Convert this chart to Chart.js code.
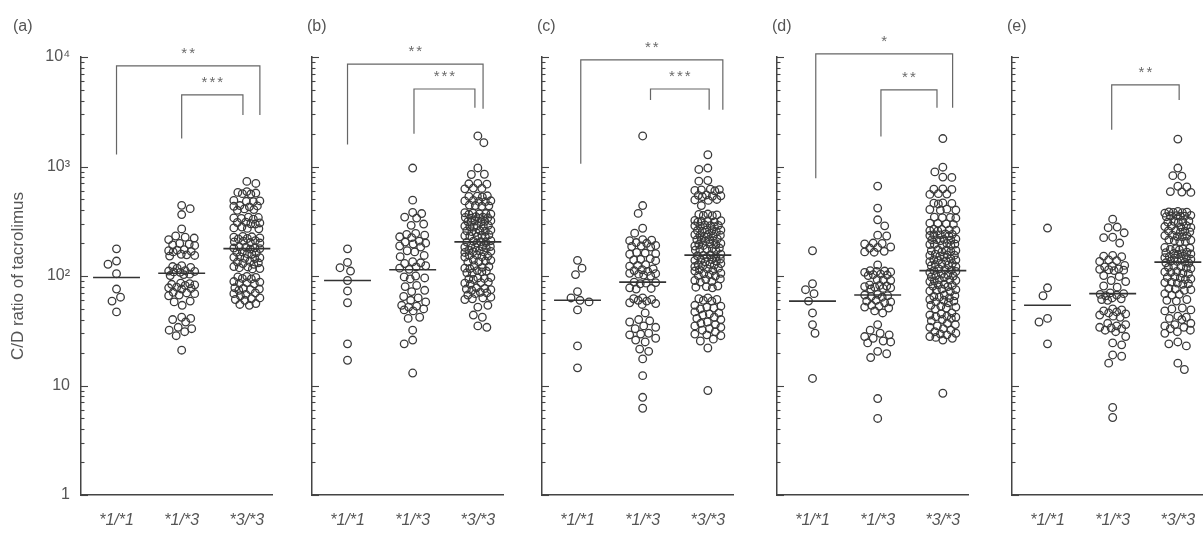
<!DOCTYPE html>
<html>
<head>
<meta charset="utf-8">
<script src="https://cdn.jsdelivr.net/npm/chart.js@4.4.1/dist/chart.umd.min.js"></script>
<style>
  body { margin: 0; background: #fff; width: 1203px; height: 536px; overflow: hidden; position: relative;
         font-family: "Liberation Sans", Arial, sans-serif; }
  canvas { position: absolute; top: 0; }
  .tag { position: absolute; top: 18px; font-size: 16px; line-height: 1; color: #555; }
</style>
</head>
<body>
<script>
// categories and axis labels
const genotypes = ['*1/*1', '*1/*3', '*3/*3'];
const yTickValues = [1, 10, 100, 1000, 10000];
const yTickLabels = ['1', '10', '10²', '10³', '10⁴'];
const panelNames = ['(a)', '(b)', '(c)', '(d)', '(e)'];

// (a)
const a11 = [177, 137, 128, 105, 76, 64, 59, 47];
const a13 = [442, 412, 364, 269, 232, 226, 222, 215, 198, 195, 192, 190, 174, 172, 170, 168, 166, 158, 156, 154, 152,
  124, 122, 120, 118, 112, 111, 110, 109, 108, 104, 103, 101, 86, 85, 84, 83, 82, 79, 78, 77, 76, 71, 70, 69, 67, 66,
  59, 58, 54, 42, 41, 40, 38, 34, 33, 32, 31, 28.5, 21];
const a33 = [731, 700, 580, 572, 565, 560, 590, 485, 481, 478, 490, 440, 433, 428, 436, 410, 404, 398,
  345, 339, 335, 342, 330, 310, 305, 300, 308, 298, 280, 275, 270, 272, 228, 223, 220, 226, 218, 230,
  208, 205, 202, 210, 200, 185, 181, 178, 183, 176, 180, 166, 163, 160, 165, 158, 150, 147, 144, 148, 145,
  134, 132, 130, 136, 128, 121, 119, 117, 122, 116, 99, 97, 95, 98, 94, 89, 87, 85, 88, 86,
  78, 76, 74, 77, 75, 70, 68, 66, 69, 62, 61, 60, 63, 56, 55, 54];
const mediansA = [97, 106, 178];

// (b)
const b11 = [177, 133, 119, 111, 91, 73, 57, 24, 17];
const b13 = [968, 493, 380, 372, 345, 338, 298, 290, 245, 240, 236, 228, 224, 208, 204, 200, 196, 188, 184, 170, 166,
  154, 150, 135, 132, 130, 124, 121, 118, 115, 100, 98, 96, 94, 82, 80, 74, 72, 65, 63, 60, 58, 54, 53, 52, 50, 49, 48,
  42, 41, 32, 26, 24, 13];
const b33 = [1900, 1650, 970, 850, 845, 700, 695, 690, 635, 630, 625, 540, 533, 528, 536, 490, 485, 480, 478, 486,
  440, 437, 433, 445, 375, 370, 366, 372, 368, 378, 345, 342, 338, 348, 340, 336, 318, 314, 310, 316, 312, 320,
  288, 284, 280, 286, 282, 290, 262, 258, 254, 260, 256, 250, 236, 233, 230, 238, 232, 228, 206, 204, 202, 208, 200, 210,
  188, 185, 182, 186, 183, 180, 170, 168, 166, 172, 164, 167, 154, 152, 150, 155, 149, 139, 137, 135, 140, 134,
  122, 120, 118, 124, 117, 111, 109, 107, 112, 106, 96, 95, 93, 97, 94, 87, 86, 84, 88, 77, 76, 74, 78, 75,
  70, 69, 67, 71, 63, 62, 61, 64, 54, 52, 44, 42, 35, 34];
const mediansB = [91, 114, 205];

// (c)
const c11 = [139, 118, 103, 72, 63, 60, 58, 49, 23, 14.5];
const c13 = [1900, 440, 373, 273, 246, 215, 212, 210, 202, 199, 190, 188, 186, 184, 164, 162, 160, 158, 144, 142, 140, 138,
  127, 125, 123, 116, 114, 112, 110, 106, 105, 104, 102, 100, 88, 87, 86, 85, 78, 77, 76, 63, 62, 61, 60, 59, 57, 56, 55,
  46, 40, 39, 38, 35, 34, 33, 30, 29.5, 29, 27, 26, 25, 21.5, 20.5, 17.5, 12.3, 7.8, 6.2];
const c33 = [1280, 968, 940, 745, 735, 615, 610, 605, 600, 620, 545, 540, 535, 550, 530, 500, 495, 490, 440,
  365, 361, 357, 368, 355, 320, 316, 312, 322, 310, 318, 290, 287, 284, 292, 282, 288, 262, 259, 256, 264, 254, 260,
  238, 235, 232, 240, 230, 236, 216, 213, 210, 218, 208, 214, 196, 193, 190, 198, 188, 194, 178, 175, 172, 180, 170, 176,
  156, 153, 150, 158, 148, 154, 141, 139, 137, 143, 135, 140, 128, 126, 124, 130, 122, 127, 116, 114, 112, 118, 111,
  105, 103, 101, 106, 100, 93, 91, 89, 94, 88, 80, 79, 78, 81, 62, 61, 60, 63, 59, 53, 52, 51, 54, 50,
  46, 45, 44, 47, 41, 40, 42, 37, 36, 35, 38, 34, 33, 32, 31, 29.5, 29, 28.5, 26.5, 25.5, 22, 9];
const mediansC = [60, 88, 155];

// (d)
const d11 = [170, 85, 75, 69, 59, 46, 36, 30, 11.6];
const d13 = [662, 417, 326, 287, 236, 232, 200, 198, 196, 184, 182, 180, 168, 166, 165, 126, 112, 111, 110, 109, 108,
  104, 103, 102, 101, 93, 92, 91, 83, 82, 81, 80, 79, 78, 77, 76, 68, 67, 66, 65, 64, 60, 59, 58, 57, 54, 53, 52, 51,
  48, 46, 36, 32, 30, 29, 28, 27, 25.5, 25, 24.5, 20.5, 19.5, 18, 7.6, 5];
const d33 = [1800, 985, 893, 800, 795, 625, 620, 618, 565, 560, 556, 465, 460, 455, 462, 405, 400, 398, 408,
  345, 341, 337, 343, 302, 299, 296, 304, 266, 262, 258, 264, 260, 268, 240, 237, 234, 242, 232, 238,
  216, 214, 212, 218, 210, 215, 196, 194, 192, 198, 190, 195, 172, 170, 168, 174, 166, 171, 156, 154, 152, 158, 150, 155,
  141, 139, 137, 143, 135, 140, 128, 126, 124, 130, 122, 127, 114, 112, 110, 116, 108, 113, 102, 100, 98, 104, 97, 101,
  92, 91, 90, 93, 89, 83, 82, 81, 84, 80, 75, 74, 73, 76, 72, 66, 65, 64, 67, 63, 60, 59, 58, 61, 57,
  53, 52, 51, 54, 50, 45, 44, 43, 46, 42, 41, 40, 39, 42.5, 36, 35, 34, 37, 33, 31, 30, 29, 32, 29.5,
  28, 27, 26, 27.5, 8.5];
const mediansD = [59, 67, 112];

// (e)
const e11 = [274, 78, 66, 41, 38, 24];
const e13 = [330, 280, 276, 248, 226, 224, 200, 154, 152, 150, 140, 138, 136, 125, 123, 121, 116, 115, 114, 113, 112,
  101, 99, 91, 89, 81, 79, 70, 69, 68, 67, 66, 63, 62, 61, 60, 50, 49, 48, 47, 46, 45, 44, 43, 42,
  37, 36, 35, 34, 33, 33.5, 32, 31, 28, 24.5, 23.5, 19, 18.5, 16, 6.3, 5.1];
const e33 = [1780, 968, 825, 815, 660, 650, 590, 585, 580, 385, 382, 378, 388, 375, 380, 356, 353, 350, 358, 348, 352,
  316, 313, 310, 318, 308, 286, 283, 280, 288, 278, 258, 256, 253, 260, 251, 234, 232, 229, 236, 228,
  212, 210, 207, 214, 206, 180, 178, 175, 182, 173, 177, 163, 161, 159, 165, 157, 160, 148, 146, 144, 150, 142, 147,
  136, 134, 132, 137, 131, 122, 120, 118, 123, 117, 109, 108, 106, 110, 105, 97, 96, 94, 98, 93, 87, 86, 84, 88, 85,
  76, 75, 74, 77, 69, 68, 67, 61, 60, 59, 50, 49, 48, 51, 42, 41, 40, 43, 36, 35, 34, 37, 33, 32, 31, 30,
  25, 24, 23, 16, 14];
const mediansE = [54, 69, 134];

// significance brackets: [x from, x to, left end, top, right end, label]
const bracketsA = [[1, 3.2, 1290, 8300, 2960, '**'], [2, 2.94, 1800, 4500, 2960, '***']];
const bracketsB = [[1, 3.08, 1590, 8600, 3370, '**'], [2.02, 2.955, 1990, 5100, 3440, '***']];
const bracketsC = [[1.05, 3.23, 1060, 9400, 3300, '**'], [2.12, 3.02, 4050, 5100, 3300, '***']];
const bracketsD = [[1.05, 3.15, 780, 10700, 3440, '*'], [2.05, 2.91, 1880, 5000, 3440, '**']];
const bracketsE = [[1.985, 3.02, 2170, 5560, 4040, '**']];

const panels = [
  { groups: [a11, a13, a33], medians: mediansA, brackets: bracketsA },
  { groups: [b11, b13, b33], medians: mediansB, brackets: bracketsB },
  { groups: [c11, c13, c33], medians: mediansC, brackets: bracketsC },
  { groups: [d11, d13, d33], medians: mediansD, brackets: bracketsD },
  { groups: [e11, e13, e33], medians: mediansE, brackets: bracketsE }
];

const axisX = [81, 312, 542, 777, 1012];
const INK = '#444';
const TEXT = '#555';

// inward log ticks on the y axis and the star labels over brackets
const decorations = {
  id: 'decorations',
  afterDraw(chart) {
    const ctx = chart.ctx;
    const xs = chart.scales.x, ys = chart.scales.y;
    const left = chart.chartArea.left;
    ctx.save();
    ctx.strokeStyle = INK;
    ctx.lineWidth = 1.1;
    for (let p = 0; p <= 4; p++) {
      for (let m = 1; m <= 9; m++) {
        if (p === 4 && m > 1) break;
        const y = Math.round(ys.getPixelForValue(m * Math.pow(10, p))) + 0.5;
        const len = m === 1 ? 7 : 3.5;
        ctx.beginPath();
        ctx.moveTo(left, y);
        ctx.lineTo(left + len, y);
        ctx.stroke();
      }
    }
    ctx.fillStyle = '#6a6a6a';
    ctx.font = '15px "Liberation Sans", Arial, sans-serif';
    ctx.textAlign = 'center';
    ctx.textBaseline = 'middle';
    ctx.letterSpacing = '2px';
    (chart.options.brackets || []).forEach(b => {
      const x = xs.getPixelForValue((b[0] + b[1]) / 2);
      const y = ys.getPixelForValue(b[3]) - 12;
      ctx.fillText(b[5], x + 1, y);
    });
    ctx.restore();
  }
};

// lay points out as a dot-plot swarm around each group centre
function swarm(chart) {
  const xs = chart.scales.x, ys = chart.scales.y;
  const D = 9, SPREAD = 26;
  chart.data.datasets.forEach(ds => {
    if (!ds.values) return;
    const cx = xs.getPixelForValue(ds.group);
    const pts = ds.values.map(v => ({ v: v, py: ys.getPixelForValue(v), dx: 0 }))
      .sort((p, q) => p.py - q.py);
    const placed = [];
    pts.forEach((p, i) => {
      const sgn = i % 2 ? 1 : -1;
      let best = 0, bestScore = -1;
      for (let s = 0; s <= SPREAD * 2; s++) {
        const dx = s === 0 ? 0 : (s % 2 ? sgn : -sgn) * Math.ceil(s / 2) * 0.5;
        if (Math.abs(dx) > SPREAD) break;
        let score = D;
        for (const q of placed) {
          const dy = q.py - p.py;
          if (Math.abs(dy) >= D) continue;
          const d = Math.hypot(q.dx - dx, dy);
          if (d < score) score = d;
        }
        if (score > bestScore + 0.01) { bestScore = score; best = dx; }
        if (score >= D) break;
      }
      p.dx = best;
      placed.push(p);
    });
    ds.data = pts.map(p => ({ x: xs.getValueForPixel(cx + p.dx), y: p.v }));
  });
  chart.update('none');
}

panels.forEach((panel, i) => {
  const yWidth = i === 0 ? 81 : 10;
  const canvas = document.createElement('canvas');
  canvas.width = yWidth + 200;
  canvas.height = 536;
  canvas.style.left = (axisX[i] - yWidth) + 'px';
  document.body.appendChild(canvas);

  const tag = document.createElement('div');
  tag.className = 'tag';
  tag.textContent = panelNames[i];
  tag.style.left = (i === 0 ? 13 : axisX[i] - 5) + 'px';
  document.body.appendChild(tag);

  const datasets = [];
  panel.medians.forEach((m, g) => {
    datasets.push({
      data: [{ x: g + 1 - 0.36, y: m }, { x: g + 1 + 0.36, y: m }],
      showLine: true, borderColor: '#333', borderWidth: 1.6, pointRadius: 0
    });
  });
  panel.brackets.forEach(b => {
    datasets.push({
      data: [{ x: b[0], y: b[2] }, { x: b[0], y: b[3] }, { x: b[1], y: b[3] }, { x: b[1], y: b[4] }],
      showLine: true, borderColor: '#666', borderWidth: 1.2, pointRadius: 0, clip: false
    });
  });
  panel.groups.forEach((vals, g) => {
    datasets.push({
      group: g + 1,
      values: vals,
      data: vals.map(v => ({ x: g + 1, y: v })),
      pointStyle: 'circle',
      pointRadius: 3.8,
      pointBorderWidth: 1.3,
      pointBorderColor: '#3a3a3a',
      pointBackgroundColor: 'rgba(0,0,0,0)',
      clip: false
    });
  });

  const chart = new Chart(canvas.getContext('2d'), {
    type: 'scatter',
    data: { datasets: datasets },
    options: {
      responsive: false,
      animation: false,
      events: [],
      brackets: panel.brackets,
      layout: { padding: { top: 57, right: 6, left: 0, bottom: 0 } },
      plugins: { legend: { display: false }, tooltip: { enabled: false } },
      scales: {
        x: {
          type: 'linear',
          min: 0.455,
          max: 3.394,
          afterBuildTicks: s => { s.ticks = genotypes.map((g, k) => ({ value: k + 1 })); },
          afterFit: s => { s.height = 41; },
          grid: { display: false, drawTicks: false },
          border: { display: true, color: INK, width: 1.5 },
          ticks: {
            autoSkip: false,
            maxRotation: 0,
            padding: 16,
            color: TEXT,
            font: { family: '"Liberation Sans", Arial, sans-serif', size: 16, style: 'italic' },
            callback: v => genotypes[Math.round(v) - 1]
          }
        },
        y: {
          type: 'logarithmic',
          min: 1,
          max: 10000,
          afterBuildTicks: s => { s.ticks = yTickValues.map(v => ({ value: v })); },
          afterFit: s => { s.width = yWidth; },
          grid: { display: false },
          border: { display: true, color: INK, width: 1.5 },
          ticks: {
            display: i === 0,
            padding: 3,
            color: TEXT,
            font: { family: '"Liberation Sans", Arial, sans-serif', size: 16 },
            callback: v => yTickLabels[yTickValues.indexOf(v)]
          },
          title: {
            display: i === 0,
            text: 'C/D ratio of tacrolimus',
            color: TEXT,
            font: { family: '"Liberation Sans", Arial, sans-serif', size: 17 },
            padding: { top: 8, bottom: 0 }
          }
        }
      }
    },
    plugins: [decorations]
  });
  swarm(chart);
});
</script>
</body>
</html>
